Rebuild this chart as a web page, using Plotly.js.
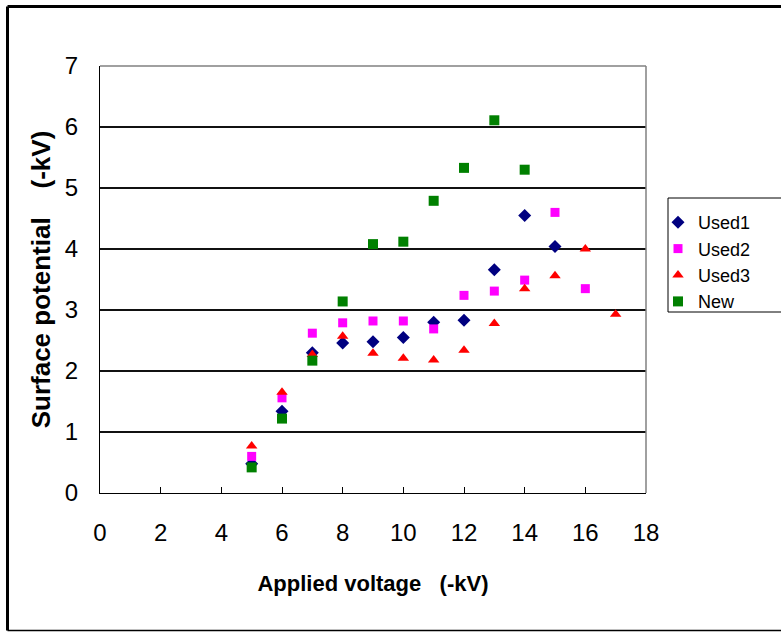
<!DOCTYPE html>
<html>
<head>
<meta charset="utf-8">
<script src="https://cdn.plot.ly/plotly-3.0.1.min.js"></script>
<style>
html,body{margin:0;padding:0;background:#fff;overflow:hidden;}
#chart{width:781px;height:632px;}
</style>
</head>
<body>
<div id="chart"></div>
<script>
// Data
var voltage = [5, 6, 7, 8, 9, 10, 11, 12, 13, 14, 15, 16, 17];
var used1 = [0.48, 1.34, 2.30, 2.46, 2.48, 2.55, 2.80, 2.83, 3.66, 4.55, 4.04];
var used2 = [0.60, 1.56, 2.62, 2.79, 2.82, 2.82, 2.69, 3.24, 3.31, 3.49, 4.60, 3.35];
var used3 = [0.77, 1.65, 2.27, 2.57, 2.29, 2.21, 2.18, 2.34, 2.78, 3.35, 3.56, 4.00, 2.93];
var newS  = [0.42, 1.22, 2.17, 3.14, 4.08, 4.12, 4.79, 5.33, 6.11, 5.30];
var seriesNames = ['Used1', 'Used2', 'Used3', 'New'];
var xTicks = [0, 2, 4, 6, 8, 10, 12, 14, 16, 18];
var yTicks = [0, 1, 2, 3, 4, 5, 6, 7];

var font = 'Liberation Sans, Arial, sans-serif';
function tr(name, ys, sym, col, size) {
  return {
    type: 'scatter', mode: 'markers', name: name,
    x: voltage.slice(0, ys.length), y: ys,
    marker: {symbol: sym, color: col, size: size, line: {width: 0}},
    cliponaxis: false
  };
}
var data = [
  tr(seriesNames[0], used1, 'diamond', '#000080', 10),
  tr(seriesNames[1], used2, 'square', '#FF00FF', 9),
  tr(seriesNames[2], used3, 'triangle-up', '#FF0000', 10),
  tr(seriesNames[3], newS, 'square', '#008000', 10)
];

// pixel -> paper helpers (plot area: left 100, right 646, top 66, bottom 493)
var L = 100, R = 646, T = 66, B = 493;
function px(x) { return (x - L) / (R - L); }
function py(y) { return (B - y) / (B - T); }
function ln(x0, y0, x1, y1, col, w) {
  return {type: 'line', xref: 'paper', yref: 'paper', x0: px(x0), x1: px(x1), y0: py(y0), y1: py(y1), line: {color: col, width: w}};
}

var layout = {
  width: 781, height: 632,
  margin: {l: L, r: 781 - R, t: T, b: 632 - B},
  paper_bgcolor: '#fff', plot_bgcolor: '#fff',
  showlegend: true,
  font: {family: font, color: '#000'},
  xaxis: {
    range: [0, 18], tickvals: xTicks, ticktext: xTicks.map(String),
    showgrid: false, zeroline: false,
    showline: true, linecolor: '#000', linewidth: 1,
    ticks: 'inside', ticklen: 6, tickcolor: '#000', tickwidth: 1,
    tickfont: {size: 24, family: font, color: '#000'},
    ticklabelstandoff: 18,
    title: {text: 'Applied voltage\u00a0\u00a0\u00a0(-kV)', font: {size: 22, family: font, color: '#000', weight: 'bold'}, standoff: 30}
  },
  yaxis: {
    range: [0, 7], tickvals: yTicks, ticktext: yTicks.map(String),
    showgrid: true, gridcolor: '#111', gridwidth: 1.3,
    zeroline: false,
    showline: true, linecolor: '#000', linewidth: 1,
    ticks: '',
    tickfont: {size: 24, family: font, color: '#000'},
    ticklabelstandoff: 16,
    title: {text: 'Surface potential\u00a0\u00a0\u00a0\u00a0(-kV)', font: {size: 26, family: font, color: '#000', weight: 'bold'}, standoff: 6}
  },
  legend: {
    x: px(658), y: py(204), xanchor: 'left', yanchor: 'top',
    bgcolor: 'rgba(0,0,0,0)', borderwidth: 0,
    font: {size: 18, family: font, color: '#000'},
    itemwidth: 30, tracegroupgap: 0
  },
  shapes: [
    // top and right grey frame of plot area
    {type: 'line', xref: 'paper', yref: 'paper', x0: 0, x1: 1, y0: 1, y1: 1, line: {color: '#808080', width: 1.5}},
    {type: 'line', xref: 'paper', yref: 'paper', x0: 1, x1: 1, y0: 0, y1: 1, line: {color: '#808080', width: 1.5}},
    // legend box (open to the right edge)
    ln(668, 198, 781, 198, '#000', 1),
    ln(668, 198, 668, 312, '#000', 1),
    ln(668, 312, 781, 312, '#000', 1),
    // outer chart border (right side runs off the picture)
    ln(7.5, 6.5, 781, 6.5, '#000', 3),
    ln(7.5, 6.5, 7.5, 630.5, '#000', 3),
    ln(7.5, 630.5, 781, 630.5, '#000', 1.5)
  ]
};

Plotly.newPlot('chart', data, layout, {displayModeBar: false, staticPlot: true});
</script>
</body>
</html>
